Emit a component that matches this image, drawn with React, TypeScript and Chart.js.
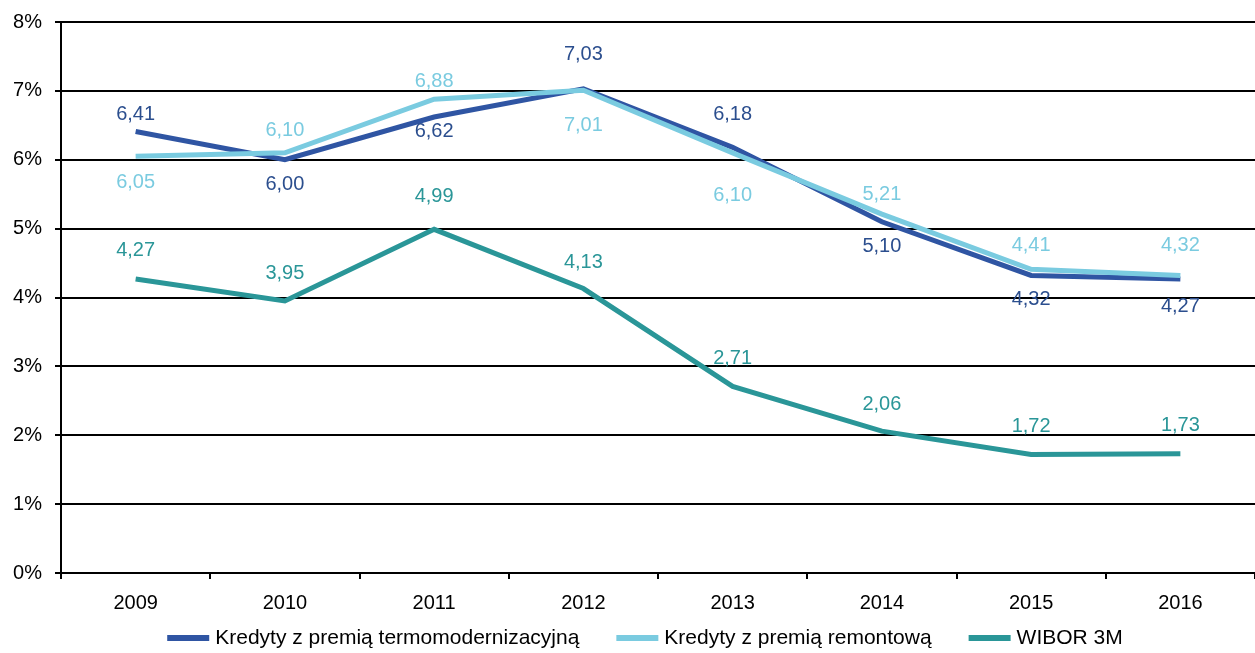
import React, { useEffect, useRef } from "react";
import { Chart, registerables } from "chart.js";

Chart.register(...registerables);

const years = ["2009", "2010", "2011", "2012", "2013", "2014", "2015", "2016"];
const termoValues = [6.41, 6.0, 6.62, 7.03, 6.18, 5.1, 4.32, 4.27];
const remontValues = [6.05, 6.1, 6.88, 7.01, 6.1, 5.21, 4.41, 4.32];
const wiborValues = [4.27, 3.95, 4.99, 4.13, 2.71, 2.06, 1.72, 1.73];

// label vertical offsets in px (negative = above point)
const termoLabelDy = [-17, 25, 14, -34, -33, 25, 24, 28];
const remontLabelDy = [26, -22, -18, 35, 43, -20, -24, -30];
const wiborLabelDy = [-28, -27, -33, -26, -28, -27, -28, -28];

const FONT = "'Liberation Sans', Arial, sans-serif";
const FS = 20;
const LEGEND_FS = 21;

const labelPlugin = {
  id: "valueLabels",
  afterDatasetsDraw(chart: any) {
    const ctx = chart.ctx;
    ctx.save();
    ctx.font = `${FS}px ${FONT}`;
    ctx.textAlign = "center";
    ctx.textBaseline = "middle";
    chart.data.datasets.forEach((ds: any, i: number) => {
      const meta = chart.getDatasetMeta(i);
      ctx.fillStyle = ds.labelColor;
      meta.data.forEach((pt: any, j: number) => {
        const v = ds.data[j] as number;
        ctx.fillText(v.toFixed(2).replace(".", ","), pt.x, pt.y + ds.labelDy[j]);
      });
    });
    ctx.restore();
  },
};

const legendPlugin = {
  id: "customLegend",
  afterDraw(chart: any) {
    const ctx = chart.ctx;
    ctx.save();
    ctx.font = `${LEGEND_FS}px ${FONT}`;
    ctx.textBaseline = "middle";
    ctx.textAlign = "left";
    const sample = 42;
    const gap = 6;
    const itemGap = 37;
    const items = chart.data.datasets.map((ds: any) => ({
      label: ds.label as string,
      color: ds.borderColor as string,
      w: sample + gap + ctx.measureText(ds.label).width,
    }));
    const total = items.reduce((s: number, it: any) => s + it.w, 0) + itemGap * (items.length - 1);
    let x = 645 - total / 2;
    const y = 638;
    items.forEach((it: any) => {
      ctx.fillStyle = it.color;
      ctx.fillRect(x, y - 3, sample, 6);
      ctx.fillStyle = "#000";
      ctx.fillText(it.label, x + sample + gap, y);
      x += it.w + itemGap;
    });
    ctx.restore();
  },
};

export default function App() {
  const ref = useRef<HTMLCanvasElement | null>(null);
  useEffect(() => {
    if (!ref.current) return;
    const chart = new Chart(ref.current, {
      type: "line",
      data: {
        labels: years,
        datasets: [
          {
            label: "Kredyty z premią termomodernizacyjną",
            data: termoValues,
            borderColor: "#2F55A3",
            backgroundColor: "#2F55A3",
            borderWidth: 5,
            pointRadius: 0,
            tension: 0,
            order: 1,
            labelColor: "#2B4E8E",
            labelDy: termoLabelDy,
          } as any,
          {
            label: "Kredyty z premią remontową",
            data: remontValues,
            borderColor: "#7ACBE0",
            backgroundColor: "#7ACBE0",
            borderWidth: 5,
            pointRadius: 0,
            tension: 0,
            order: 0,
            labelColor: "#7ACBE0",
            labelDy: remontLabelDy,
          } as any,
          {
            label: "WIBOR 3M",
            data: wiborValues,
            borderColor: "#2A9698",
            backgroundColor: "#2A9698",
            borderWidth: 5,
            pointRadius: 0,
            tension: 0,
            order: 2,
            labelColor: "#2A9698",
            labelDy: wiborLabelDy,
          } as any,
        ],
      },
      options: {
        animation: false,
        responsive: false,
        maintainAspectRatio: false,
        layout: { padding: { top: 22, right: 0, left: 0, bottom: 35 } },
        plugins: {
          tooltip: { enabled: false },
          legend: { display: false },
        },
        scales: {
          x: {
            offset: true,
            grid: {
              offset: true,
              drawOnChartArea: false,
              drawTicks: true,
              tickLength: 6,
              color: "#000",
              lineWidth: 2,
            },
            border: { color: "#000", width: 2 },
            ticks: {
              color: "#000",
              font: { family: FONT, size: FS },
              padding: 12,
            },
            afterFit: (s: any) => {
              s.height = 45;
            },
          },
          y: {
            min: 0,
            max: 8,
            grid: {
              color: "#000",
              lineWidth: 2,
              tickLength: 6,
            },
            border: { color: "#000", width: 2 },
            ticks: {
              stepSize: 1,
              color: "#000",
              font: { family: FONT, size: FS },
              padding: 13,
              callback: (v: any) => `${v}%`,
            },
            afterFit: (s: any) => {
              s.width = 61;
              s.paddingTop = 0;
              s.paddingBottom = 0;
            },
          },
        },
      },
      plugins: [labelPlugin, legendPlugin],
    });
    return () => chart.destroy();
  }, []);
  return (
    <div style={{ position: "fixed", left: 0, top: 0, width: 1255, height: 653, background: "#fff" }}>
      <canvas ref={ref} width={1255} height={653} style={{ width: 1255, height: 653 }} />
    </div>
  );
}
